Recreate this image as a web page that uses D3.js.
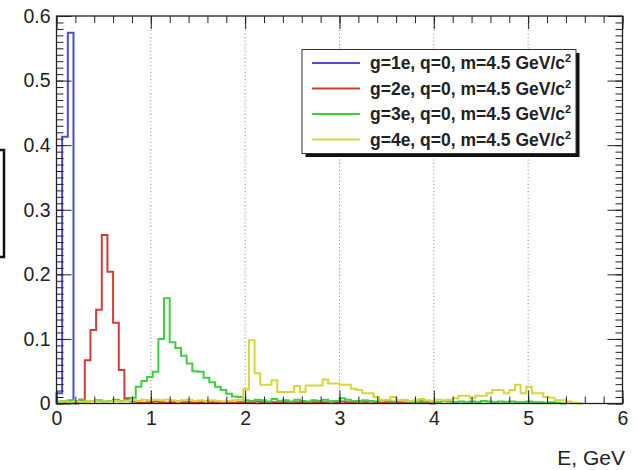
<!DOCTYPE html>
<html>
<head>
<meta charset="utf-8">
<script src="https://cdn.jsdelivr.net/npm/d3@7"></script>
<style>
  body { margin: 0; background: #fff; }
  text { font-family: "Liberation Sans", Arial, Helvetica, sans-serif; fill: #222; }
</style>
</head>
<body>
<div id="chart"></div>
<script>
// histogram contents, bin width 0.06 GeV starting at E = 0
var binWidth = 0.06;

var blueCounts = [0.016, 0.413, 0.574, 0];

var redCounts = [0.001, 0.002, 0.002, 0.003, 0.006, 0.067, 0.114, 0.145, 0.261, 0.204,
    0.125, 0.052, 0.008, 0.003, 0.002, 0.001, 0.002, 0.003, 0.002, 0.001,
    0.002, 0.003, 0.002, 0.002, 0.001, 0.002, 0.003, 0.002, 0.001, 0.002,
    0.002, 0.001, 0.002, 0.001, 0.002, 0.003, 0.002, 0.001, 0.002, 0.001,
    0.002, 0.001, 0.002, 0.002, 0.001, 0.002, 0.001, 0.002, 0.003, 0.002,
    0.003, 0.002, 0.002, 0.003, 0.002, 0.003, 0.002, 0.001, 0.002, 0.001,
    0.002, 0.001, 0.001, 0.002, 0.001, 0.001, 0];

var greenCounts = [0.003, 0.004, 0.005, 0.004, 0.006, 0.003, 0.004, 0.005, 0.003, 0.004,
    0.006, 0.004, 0.006, 0.009, 0.026, 0.035, 0.041, 0.049, 0.100, 0.163,
    0.095, 0.086, 0.074, 0.062, 0.050, 0.049, 0.040, 0.033, 0.026, 0.021,
    0.015, 0.011, 0.010, 0.005, 0.004, 0.006, 0.005, 0.003, 0.007, 0.004,
    0.005, 0.003, 0.006, 0.004, 0.003, 0.005, 0.004, 0.006, 0.003, 0.004,
    0.008, 0.006, 0.004, 0.003, 0.005, 0.004, 0.003, 0.005, 0.004, 0.003,
    0.004, 0.005, 0.003, 0.002, 0.004, 0.003, 0.003, 0.002, 0.004, 0.003,
    0.002, 0.003, 0.002, 0.003, 0.002, 0.004, 0.003, 0.002, 0.003, 0.002,
    0.003, 0.002, 0.002, 0.003, 0.002, 0.002, 0.001, 0.002, 0.001, 0];

var yellowCounts = [0.002, 0.003, 0.002, 0.003, 0.002, 0.003, 0.004, 0.003, 0.002, 0.003,
    0.004, 0.003, 0.004, 0.005, 0.004, 0.006, 0.005, 0.006, 0.005, 0.006,
    0.005, 0.004, 0.005, 0.006, 0.004, 0.005, 0.004, 0.005, 0.004, 0.003,
    0.004, 0.005, 0.006, 0.022, 0.098, 0.047, 0.029, 0.029, 0.036, 0.018,
    0.018, 0.018, 0.027, 0.018, 0.028, 0.028, 0.028, 0.037, 0.031, 0.031,
    0.029, 0.029, 0.023, 0.021, 0.016, 0.016, 0.010, 0.006, 0.006, 0.010,
    0.005, 0.006, 0.004, 0.005, 0.007, 0.005, 0.004, 0.006, 0.005, 0.006,
    0.008, 0.012, 0.012, 0.008, 0.012, 0.012, 0.016, 0.021, 0.021, 0.016,
    0.021, 0.029, 0.016, 0.026, 0.016, 0.016, 0.010, 0.009, 0.005, 0.005,
    0.003, 0.001, 0];

var seriesNames = ["g=1e, q=0, m=4.5 GeV/c", "g=2e, q=0, m=4.5 GeV/c",
                   "g=3e, q=0, m=4.5 GeV/c", "g=4e, q=0, m=4.5 GeV/c"];
var seriesColors = ["#4c4cd2", "#d43a3a", "#3ecf3e", "#d6d63c"];
var seriesCounts = [blueCounts, redCounts, greenCounts, yellowCounts];

var xTickValues = [0, 1, 2, 3, 4, 5, 6];
var yTickValues = [0, 0.1, 0.2, 0.3, 0.4, 0.5, 0.6];
var yTickLabels = ["0", "0.1", "0.2", "0.3", "0.4", "0.5", "0.6"];
var xTitle = "E, GeV";

var width = 638, height = 470;
var frameL = 56.5, frameR = 622.5, frameT = 16, frameB = 403.5;

var svg = d3.select("#chart").append("svg")
    .attr("width", width)
    .attr("height", height);

var x = d3.scaleLinear().domain([0, 6]).range([frameL, frameR]);
var y = d3.scaleLinear().domain([0, 0.6]).range([frameB, frameT]);

// dotted grid at the integer energies
svg.append("g")
    .selectAll("line")
    .data(xTickValues.slice(1, -1))
    .join("line")
    .attr("x1", d => x(d)).attr("x2", d => x(d))
    .attr("y1", frameT).attr("y2", frameB)
    .style("stroke", "#8a8a8a")
    .style("stroke-width", 1)
    .style("stroke-dasharray", "1,2.5");

// histograms drawn as steps
var step = d3.line()
    .x(d => x(d[0]))
    .y(d => y(d[1]))
    .curve(d3.curveStepAfter);

seriesCounts.forEach(function(counts, k) {
    var pts = [[0, 0]];
    counts.forEach(function(v, i) { pts.push([i * binWidth, v]); });
    pts.push([counts.length * binWidth, counts[counts.length - 1]]);
    pts.push([counts.length * binWidth, 0]);
    svg.append("path")
        .attr("d", step(pts))
        .style("fill", "none")
        .style("stroke", seriesColors[k])
        .style("stroke-width", 2);
});

// axes with inward ticks
function tidy(g) {
    g.select(".domain").remove();
    g.selectAll(".tick line").style("stroke", "#222");
}

var xMinor = d3.range(0, 6.001, 0.2);
var yMinor = d3.range(0, 0.6001, 0.01);

svg.append("g").attr("transform", "translate(0," + frameB + ")")
    .call(d3.axisBottom(x).tickValues(xMinor).tickSize(-7).tickFormat(""))
    .call(tidy);
svg.append("g").attr("transform", "translate(0," + frameB + ")")
    .call(d3.axisBottom(x).tickValues(xTickValues).tickSize(-13).tickPadding(8).tickFormat(d3.format("d")))
    .call(tidy)
    .call(g => g.selectAll("text").style("font-size", "19.5px").attr("fill", "#222"));
svg.append("g").attr("transform", "translate(0," + frameT + ")")
    .call(d3.axisTop(x).tickValues(xMinor).tickSize(-7).tickFormat(""))
    .call(tidy);
svg.append("g").attr("transform", "translate(0," + frameT + ")")
    .call(d3.axisTop(x).tickValues(xTickValues).tickSize(-13).tickFormat(""))
    .call(tidy);

svg.append("g").attr("transform", "translate(" + frameL + ",0)")
    .call(d3.axisLeft(y).tickValues(yMinor).tickSize(-7).tickFormat(""))
    .call(tidy);
svg.append("g").attr("transform", "translate(" + frameL + ",0)")
    .call(d3.axisLeft(y).tickValues(yTickValues).tickSize(-15).tickPadding(6)
        .tickFormat((d, i) => yTickLabels[i]))
    .call(tidy)
    .call(g => g.selectAll("text").style("font-size", "19.5px").attr("fill", "#222"));
svg.append("g").attr("transform", "translate(" + frameR + ",0)")
    .call(d3.axisRight(y).tickValues(yMinor).tickSize(-7).tickFormat(""))
    .call(tidy);
svg.append("g").attr("transform", "translate(" + frameR + ",0)")
    .call(d3.axisRight(y).tickValues(yTickValues).tickSize(-15).tickFormat(""))
    .call(tidy);

// frame
svg.append("rect")
    .attr("x", frameL).attr("y", frameT)
    .attr("width", frameR - frameL).attr("height", frameB - frameT)
    .style("fill", "none")
    .style("stroke", "#222")
    .style("stroke-width", 1.3);

svg.append("text")
    .text(xTitle)
    .attr("text-anchor", "end")
    .style("font-size", "21px")
    .attr("transform", "translate(625,465)");

// leftover of the cut-off y title box
svg.append("path")
    .attr("d", "M0,150H4V257H0")
    .style("fill", "none")
    .style("stroke", "#111")
    .style("stroke-width", 2.5);

// legend
var lx = 302, ly = 49.5, lw = 274, lh = 104;
svg.append("rect")
    .attr("x", lx + 3.5).attr("y", ly + 3.5)
    .attr("width", lw).attr("height", lh)
    .style("fill", "#111");
svg.append("rect")
    .attr("x", lx).attr("y", ly)
    .attr("width", lw).attr("height", lh)
    .style("fill", "#fff")
    .style("stroke", "#333")
    .style("stroke-width", 1);

var entry = svg.append("g").selectAll("g")
    .data(seriesNames)
    .join("g")
    .attr("transform", (d, i) => "translate(" + lx + "," + (ly + 13.5 + i * 25.5) + ")");

entry.append("line")
    .attr("x1", 10).attr("x2", 58)
    .attr("y1", 0).attr("y2", 0)
    .style("stroke", (d, i) => seriesColors[i])
    .style("stroke-width", 2);

var lbl = entry.append("text")
    .attr("x", 68).attr("y", 6)
    .style("font-size", "17.5px")
    .style("font-weight", "bold");
lbl.append("tspan").text(d => d);
lbl.append("tspan").text("2")
    .attr("dy", -7)
    .style("font-size", "11px");
</script>
</body>
</html>
